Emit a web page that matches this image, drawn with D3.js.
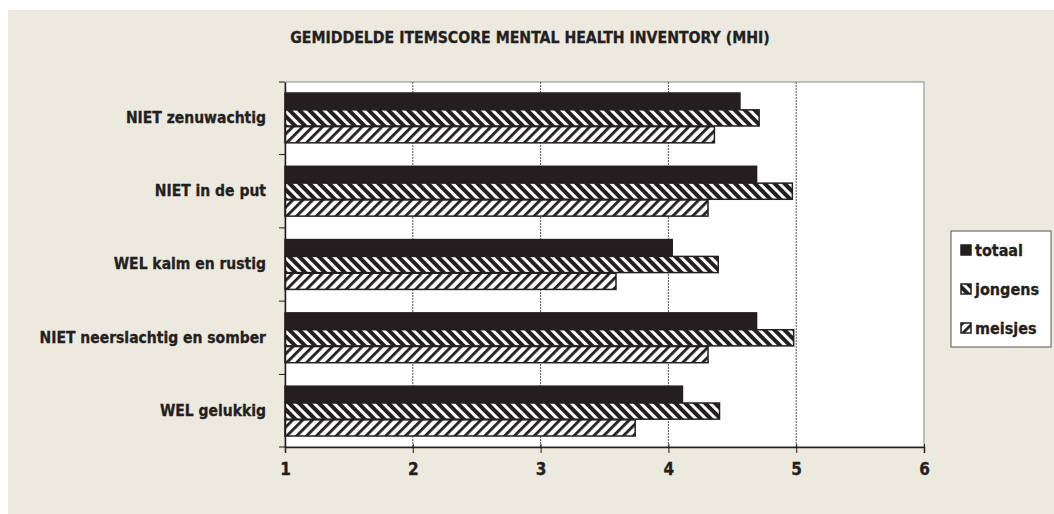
<!DOCTYPE html>
<html>
<head>
<meta charset="utf-8">
<script src="https://cdn.jsdelivr.net/npm/d3@7"></script>
<style>
  body { margin: 0; background: #ffffff; }
  svg text { font-family: "DejaVu Sans Condensed", "DejaVu Sans", sans-serif; font-weight: bold; fill: #231f20; stroke: #231f20; stroke-width: 0.3px; }
</style>
</head>
<body>
<div id="chart"></div>
<script>
// categories, top to bottom
var categories = ["NIET zenuwachtig", "NIET in de put", "WEL kalm en rustig", "NIET neerslachtig en somber", "WEL gelukkig"];
var seriesNames = ["totaal", "jongens", "meisjes"];
var totaal  = [4.56, 4.69, 4.03, 4.69, 4.11];
var jongens = [4.71, 4.97, 4.39, 4.98, 4.40];
var meisjes = [4.36, 4.31, 3.59, 4.31, 3.74];
var xTicks = [1, 2, 3, 4, 5, 6];
var title = "GEMIDDELDE ITEMSCORE MENTAL HEALTH INVENTORY (MHI)";

var W = 1054, H = 514;
var margin = { top: 82, right: 130, bottom: 67, left: 285 },
    width = 924 - margin.left,
    height = 447 - margin.top;

var svg = d3.select("#chart").append("svg")
    .attr("width", W)
    .attr("height", H);

// patterns
var defs = svg.append("defs");
var pj = defs.append("pattern")
    .attr("id", "pat_jongens")
    .attr("patternUnits", "userSpaceOnUse")
    .attr("width", 7).attr("height", 7)
    .attr("patternTransform", "rotate(-45)");
pj.append("rect").attr("width", 7).attr("height", 7).attr("fill", "#231f20");
pj.append("rect").attr("x", 0).attr("width", 3).attr("height", 7).attr("fill", "#fff");

var pm = defs.append("pattern")
    .attr("id", "pat_meisjes")
    .attr("patternUnits", "userSpaceOnUse")
    .attr("width", 7).attr("height", 7)
    .attr("patternTransform", "rotate(45)");
pm.append("rect").attr("width", 7).attr("height", 7).attr("fill", "#fff");
pm.append("rect").attr("x", 0).attr("width", 2.8).attr("height", 7).attr("fill", "#231f20");

var fills = { totaal: "#231f20", jongens: "url(#pat_jongens)", meisjes: "url(#pat_meisjes)" };

// background
svg.append("rect")
    .attr("x", 8).attr("y", 10)
    .attr("width", W - 8).attr("height", H - 10)
    .attr("fill", "#ece9df");

// title
svg.append("text")
    .attr("x", 530)
    .attr("y", 43)
    .attr("text-anchor", "middle")
    .style("font-size", "15.7px")
    .text(title);

var g = svg.append("g")
    .attr("transform", "translate(" + margin.left + "," + margin.top + ")");

var x = d3.scaleLinear().domain([1, 6]).range([0, width]);
var y = d3.scaleBand().domain(categories).range([0, height]).paddingInner(0.32).paddingOuter(0.15);
var ySub = d3.scaleBand().domain(seriesNames).range([0, y.bandwidth()]).paddingInner(0.04);

// plot area
g.append("rect")
    .attr("width", width).attr("height", height)
    .attr("fill", "#fff")
    .attr("stroke", "#8a8a8a")
    .attr("stroke-width", 1);

// gridlines
g.selectAll(".grid")
    .data(xTicks.filter(function (d) { return d > 1 && d < 6; }))
    .enter().append("line")
    .attr("x1", function (d) { return x(d); })
    .attr("x2", function (d) { return x(d); })
    .attr("y1", 0).attr("y2", height)
    .attr("stroke", "#555")
    .attr("stroke-width", 1)
    .attr("stroke-dasharray", "2,1");

// bars
var data = categories.map(function (c, i) {
    return { cat: c, vals: [
        { key: "totaal", v: totaal[i] },
        { key: "jongens", v: jongens[i] },
        { key: "meisjes", v: meisjes[i] }
    ] };
});

var groups = g.selectAll(".grp").data(data).enter().append("g")
    .attr("transform", function (d) { return "translate(0," + y(d.cat) + ")"; });

groups.selectAll("rect").data(function (d) { return d.vals; }).enter().append("rect")
    .attr("x", x(1))
    .attr("y", function (d) { return ySub(d.key); })
    .attr("width", function (d) { return x(d.v) - x(1); })
    .attr("height", ySub.bandwidth())
    .attr("fill", function (d) { return fills[d.key]; })
    .attr("stroke", "#231f20")
    .attr("stroke-width", 1.5);

// x axis
var xAxis = g.append("g")
    .attr("transform", "translate(0," + height + ")")
    .call(d3.axisBottom(x).tickValues(xTicks).tickFormat(d3.format("d")).tickSize(6).tickPadding(10));
xAxis.select(".domain").attr("stroke", "#231f20").attr("stroke-width", 1.5);
xAxis.selectAll(".tick line").attr("stroke", "#231f20").attr("y1", -3);
xAxis.selectAll(".tick text").style("font-size", "17px").attr("fill", "#231f20");

// y axis
var yAxis = g.append("g").call(d3.axisLeft(y).tickSize(0).tickPadding(19));
yAxis.select(".domain").attr("stroke", "#231f20").attr("stroke-width", 1.5);
yAxis.selectAll(".tick text").style("font-size", "15.5px").attr("fill", "#231f20");

// tick marks between categories
var bounds = d3.range(categories.length + 1).map(function (i) {
    if (i === 0) return 0;
    if (i === categories.length) return height;
    return y(categories[i]) - y.step() * y.paddingInner() / 2;
});
g.selectAll(".ytick").data(bounds).enter().append("line")
    .attr("x1", -6).attr("x2", 0)
    .attr("y1", function (d) { return d; })
    .attr("y2", function (d) { return d; })
    .attr("stroke", "#231f20")
    .attr("stroke-width", 1);

// legend
var lg = svg.append("g").attr("transform", "translate(951,231)");
lg.append("rect")
    .attr("width", 100).attr("height", 116)
    .attr("fill", "#fff")
    .attr("stroke", "#555")
    .attr("stroke-width", 1);
var items = lg.selectAll(".item").data(seriesNames).enter().append("g")
    .attr("transform", function (d, i) { return "translate(10," + (14 + i * 39) + ")"; });
items.append("rect")
    .attr("width", 10).attr("height", 10)
    .attr("fill", function (d) { return fills[d]; })
    .attr("stroke", "#231f20")
    .attr("stroke-width", 1.5);
items.append("text")
    .attr("x", 14).attr("y", 11)
    .style("font-size", "16px")
    .text(function (d) { return d; });
</script>
</body>
</html>
